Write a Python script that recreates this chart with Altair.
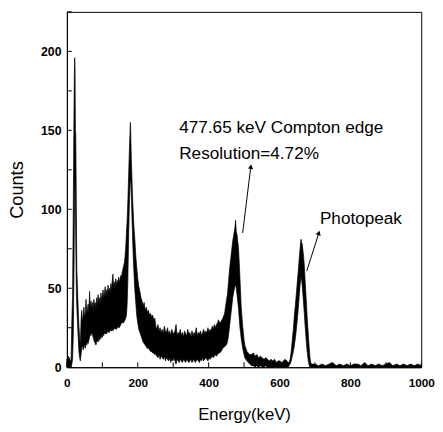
import altair as alt
import pandas as pd

# ---- spectrum envelope: energy (keV), lower and upper counts of the noisy band
energy = (
    [0, 2, 4, 6, 8, 10, 12, 14, 16, 18, 20, 21, 22, 23, 24, 25, 26, 27, 28, 30, 32, 34, 36, 38]
    + [40, 42, 44, 46, 48, 50, 52, 54, 56, 58, 60, 62, 64, 66, 68, 70, 72, 74, 76, 78, 80, 82, 84, 86, 88,
       90, 92, 94, 96, 98, 100, 102, 104, 106, 108, 110, 112, 114, 116, 118, 120, 122, 124, 126, 128,
       130, 132, 134, 136, 138, 140, 142, 144, 146, 148, 150, 152, 154, 156, 158]
    + [160, 162, 164, 166, 168, 170, 172, 174, 176, 177, 178, 179, 180, 181, 182, 183, 184, 185, 186,
       188, 190, 192, 194, 196, 198, 200, 203, 206, 209, 212, 215, 218, 221, 224, 227, 230, 233, 236,
       239, 242, 245, 248]
    + [251, 254, 257, 260, 263, 266, 269, 272, 275, 278, 281, 284, 287, 290, 293, 296, 299, 302, 305,
       308, 311, 314, 317, 320, 323, 326, 329, 332, 335, 338, 341, 344, 347, 350, 353, 356, 359, 362,
       365, 368, 371, 374, 377, 380, 383, 386, 389, 392, 395, 398, 401, 404, 407, 410, 413, 416, 419,
       422, 425, 428]
    + [431, 435, 440, 445, 450, 453, 456, 459, 462, 465, 468, 471, 474, 476, 478, 480, 482, 484, 486,
       488, 490, 492, 494, 496, 498, 500, 502, 505, 508, 512, 516]
    + [521, 526, 531, 536, 541, 546, 551, 556, 561, 566, 571, 576, 581, 586, 591, 596, 601, 606, 611,
       616, 621]
    + [624, 627, 630, 633, 636, 639, 642, 645, 648, 651, 654, 656, 658, 660, 661, 662, 664, 666, 668,
       670, 672, 674, 676, 678, 680, 682, 684, 686, 688, 691, 694]
    + [700, 710, 720, 730, 740, 750, 760, 770, 780, 790, 800, 810, 820, 830, 840, 850, 860, 870, 880,
       890, 900, 910, 920, 930, 940, 950, 960, 970, 980, 990, 1000]
)

counts_hi = (
    [5, 3, 7, 4, 6, 3, 5, 30, 45, 100, 160, 185, 196, 190, 150, 148, 120, 90, 62, 50, 36, 26, 18, 14]
    + [30, 36, 28, 33, 38, 31, 35, 43, 34, 37, 40, 35, 48, 38, 42, 37, 41, 36, 43, 39, 41, 37, 44, 40, 46,
       41, 44, 40, 47, 43, 45, 49, 44, 47, 51, 45, 49, 46, 52, 48, 50, 47, 53, 49, 55,
       59, 50, 54, 51, 56, 52, 55, 53, 57, 54, 56, 58, 57, 60, 62]
    + [64, 66, 70, 76, 85, 93, 105, 120, 135, 142, 148, 155, 150, 140, 130, 124, 116, 110, 104,
       94, 86, 80, 72, 66, 61, 56, 51, 48, 44, 42, 39, 41, 36, 38, 35, 36, 33, 34,
       32, 33, 30, 31]
    + [26, 24, 27, 23, 25, 22, 24, 21, 26, 23, 22, 25, 21, 23, 20, 24, 22, 21, 23,
       27, 20, 22, 21, 24, 20, 22, 19, 23, 21, 20, 24, 21, 22, 19, 23, 20, 22, 21,
       25, 20, 22, 21, 23, 20, 22, 24, 21, 23, 22, 25, 22, 24, 23, 26, 24, 27, 25,
       27, 28, 30]
    + [28, 29, 31, 34, 42, 46, 54, 62, 68, 74, 80, 84, 88, 93, 86, 84, 80, 76, 68,
       58, 48, 38, 32, 26, 22, 17, 14, 12, 10, 9, 8]
    + [8, 9, 7, 8, 6, 7, 6, 5, 6, 5, 4, 5, 4, 5, 3, 4, 4, 3, 4,
       5, 4]
    + [3, 3, 5, 10, 17, 24, 33, 40, 48, 56, 64, 70, 75, 80, 81, 79, 78, 74, 70,
       64, 56, 48, 40, 32, 25, 18, 12, 6, 3, 2, 2]
    + [2, 1, 2, 1, 2, 3, 1, 2, 1, 2, 1, 2, 2, 1, 3, 1, 2, 1, 2,
       1, 2, 3, 1, 2, 1, 2, 1, 2, 1, 2, 1]
)

counts_lo = (
    [0, 0, 1, 0, 0, 1, 0, 2, 5, 20, 60, 90, 110, 120, 100, 80, 60, 45, 38, 28, 18, 10, 6, 4]
    + [8, 12, 14, 11, 13, 14, 12, 15, 14, 16, 15, 17, 19, 21, 20, 22, 21, 19, 17, 16, 15, 14, 16, 17, 16,
       18, 17, 19, 18, 20, 19, 21, 20, 22, 21, 22, 21, 23, 22, 23, 22, 24, 23, 23, 24,
       23, 24, 25, 24, 25, 24, 25, 25, 26, 25, 26, 27, 28, 28, 29]
    + [28, 29, 30, 31, 33, 40, 55, 80, 100, 108, 114, 118, 120, 115, 108, 100, 92, 86, 78,
       66, 56, 48, 42, 36, 31, 28, 24, 22, 20, 18, 16, 15, 14, 13, 12, 12, 11, 10,
       10, 9, 9, 8]
    + [8, 7, 6, 8, 5, 7, 6, 5, 7, 4, 6, 5, 4, 6, 3, 5, 4, 6, 4,
       2, 5, 4, 3, 5, 4, 3, 5, 4, 3, 5, 4, 3, 4, 5, 3, 4, 5, 3,
       4, 5, 4, 3, 5, 4, 6, 4, 5, 6, 5, 4, 6, 5, 6, 7, 6, 7, 8,
       7, 8, 9]
    + [9, 10, 12, 13, 14, 16, 20, 26, 32, 38, 44, 48, 51, 52, 50, 46, 42, 38, 32,
       26, 22, 18, 15, 12, 10, 8, 6, 5, 4, 3, 2]
    + [1, 1, 0, 1, 0, 1, 0, 0, 1, 0, 0, 0, 0, 0, 0, 0, 0, 0, 0,
       0, 0]
    + [0, 1, 2, 4, 7, 10, 14, 19, 25, 32, 40, 46, 52, 56, 58, 56, 52, 46, 40,
       34, 27, 21, 15, 10, 6, 3, 1, 0, 0, 0, 0]
    + [0, 0, 0, 0, 0, 0, 0, 0, 0, 0, 0, 0, 0, 0, 0, 0, 0, 0, 0,
       0, 0, 0, 0, 0, 0, 0, 0, 0, 0, 0, 0]
)

x_ticks = [0, 100, 200, 300, 400, 500, 600, 700, 800, 900, 1000]
x_labels = [0, 200, 400, 600, 800, 1000]
y_ticks = [0, 25, 50, 75, 100, 125, 150, 175, 200, 225]
y_labels = [0, 50, 100, 150, 200]

notes = ["477.65 keV Compton edge", "Resolution=4.72%", "Photopeak"]
note_x = [317, 317, 714]
note_y = [148, 132, 91]

arrow_x = [496, 677]
arrow_y = [85, 61]
arrow_x2 = [519, 711]
arrow_y2 = [127, 85]
arrow_angle = [7, 17]

W, H = 361, 362
LABEL_FONT = "Liberation Sans Narrow, Arial Narrow, Liberation Sans, Arial"
TITLE_FONT = "Liberation Sans, Arial, Helvetica"

xs = alt.Scale(domain=[0, 1000], nice=False)
ys = alt.Scale(domain=[0, 225], nice=False)

spec = pd.DataFrame({"E": energy, "hi": counts_hi, "lo": counts_lo})

band = alt.Chart(spec).mark_area(color="black", stroke="black", strokeWidth=0.7, opacity=1).encode(
    x=alt.X("E:Q", scale=xs, title="Energy(keV)",
            axis=alt.Axis(values=x_labels, ticks=False, grid=False, format="d", labelFont=LABEL_FONT,
                          labelFontWeight="bold", labelFontSize=12, labelPadding=11,
                          titleFont=TITLE_FONT, titleFontSize=17, titleFontWeight="normal",
                          titlePadding=18, domainColor="black", labelColor="black",
                          titleColor="black", labelFlush=False)),
    y=alt.Y("hi:Q", scale=ys, title="Counts",
            axis=alt.Axis(values=y_labels, ticks=False, grid=False, format="d", labelFont=LABEL_FONT,
                          labelFontWeight="bold", labelFontSize=12.5, labelPadding=6,
                          titleFont=TITLE_FONT, titleFontSize=18.5, titleFontWeight="normal",
                          titlePadding=14, domainColor="black", labelColor="black",
                          titleColor="black", labelFlush=False)),
    y2="lo:Q",
)

xt = alt.Chart(pd.DataFrame({"v": x_ticks})).mark_rule(color="black", strokeWidth=1).encode(
    x=alt.X("v:Q", scale=xs), y=alt.value(H), y2=alt.value(H - 5))
yt = alt.Chart(pd.DataFrame({"v": y_ticks})).mark_rule(color="black", strokeWidth=1).encode(
    y=alt.Y("v:Q", scale=ys), x=alt.value(0), x2=alt.value(5))

txt = alt.Chart(pd.DataFrame({"x": note_x, "y": note_y, "t": notes})).mark_text(
    align="left", baseline="alphabetic", font=TITLE_FONT, fontSize=17.5, color="black").encode(
    x=alt.X("x:Q", scale=xs), y=alt.Y("y:Q", scale=ys), text="t:N")

arr_df = pd.DataFrame({"x": arrow_x, "y": arrow_y, "x2": arrow_x2, "y2": arrow_y2, "a": arrow_angle})
arr = alt.Chart(arr_df).mark_rule(color="black", strokeWidth=1).encode(
    x=alt.X("x:Q", scale=xs), y=alt.Y("y:Q", scale=ys), x2="x2:Q", y2="y2:Q")
heads = alt.Chart(arr_df).mark_point(shape="triangle-up", filled=True, color="black", size=28,
                                     opacity=1).encode(
    x=alt.X("x2:Q", scale=xs), y=alt.Y("y2:Q", scale=ys),
    angle=alt.Angle("a:Q", scale=None))

chart = alt.layer(band, xt, yt, arr, heads, txt).properties(
    width=W, height=H,
    autosize=alt.AutoSizeParams(type="none"),
    padding={"left": 60, "top": 0, "right": 14, "bottom": 60},
    background="white",
).configure_view(stroke="black", strokeWidth=1)

chart.save("out.html", embed_options={"renderer": "svg", "actions": False})
